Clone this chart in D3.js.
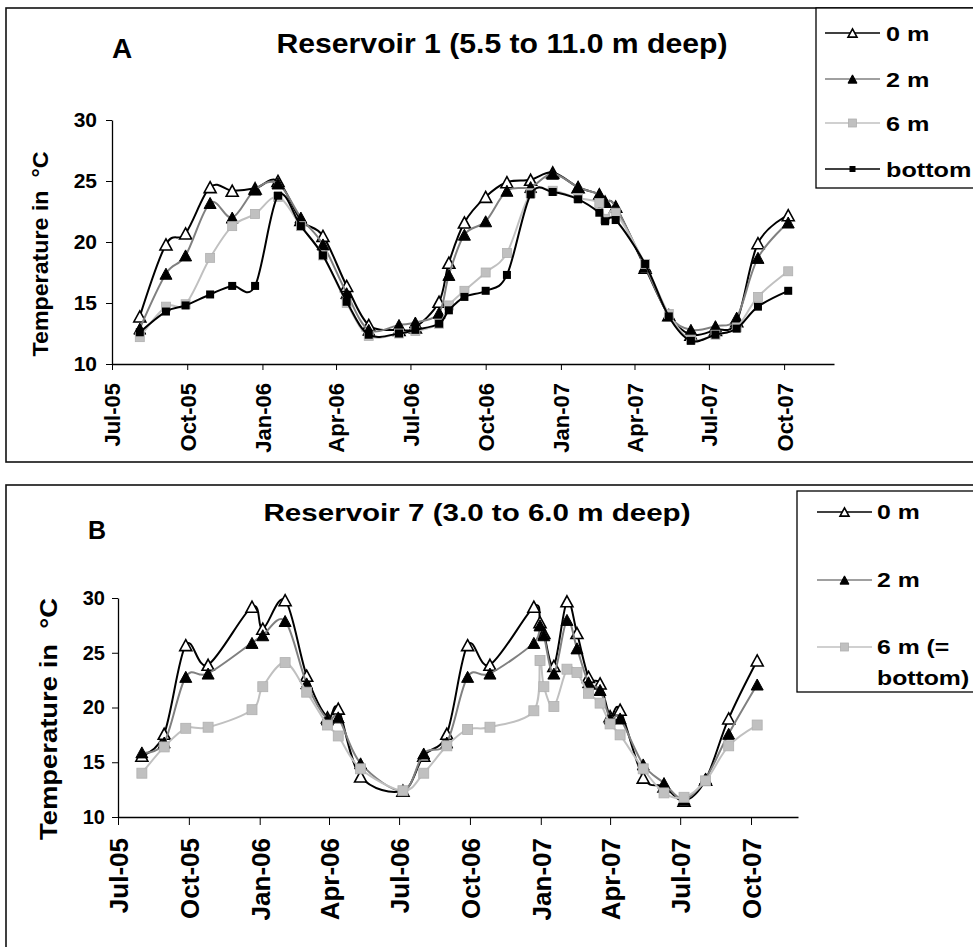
<!DOCTYPE html>
<html><head><meta charset="utf-8">
<script src="https://cdn.jsdelivr.net/npm/d3@7"></script>
<style>
body{margin:0;background:#fff;}
svg{display:block;font-family:"Liberation Sans",Arial,sans-serif;font-weight:bold;}
</style></head><body>
<svg id="c" width="973" height="947"></svg>
<script>
// ---------- DATA ----------
const datesA = ["2005-08-04","2005-09-05","2005-09-29","2005-10-29","2005-11-25","2005-12-23","2006-01-20","2006-02-17","2006-03-16","2006-04-14","2006-05-11","2006-06-17","2006-07-07","2006-08-05","2006-08-17","2006-09-05","2006-10-01","2006-10-27","2006-11-25","2006-12-22","2007-01-22","2007-02-17","2007-02-24","2007-03-09","2007-04-14","2007-05-13","2007-06-09","2007-07-09","2007-08-04","2007-08-30","2007-10-06"];
const a0m    = [13.9,19.8,20.7,24.5,24.2,24.4,25.0,21.8,20.5,16.4,13.2,12.8,13.0,15.1,18.3,21.6,23.7,24.9,25.1,25.7,24.5,23.9,23.3,22.9,17.9,14.0,12.4,12.8,13.5,19.9,22.2];
const a2m    = [12.9,17.4,18.9,23.2,22.0,24.3,24.8,22.0,19.8,15.8,12.8,13.2,13.4,14.2,17.3,20.6,21.7,24.2,24.5,25.6,24.5,23.9,23.3,22.9,18.0,14.0,12.8,13.1,13.8,18.7,21.6];
const a6m    = [12.2,14.7,14.9,18.7,21.3,22.3,23.7,21.3,18.9,15.0,12.3,12.5,12.7,13.3,14.8,16.0,17.5,19.1,24.0,24.2,23.6,23.2,21.9,22.4,18.2,14.1,12.0,12.4,13.0,15.5,17.6];
const aBottom= [12.6,14.3,14.8,15.7,16.4,16.4,23.8,21.3,18.9,15.1,12.4,12.5,12.8,13.3,14.4,15.5,16.0,17.3,23.9,24.1,23.5,22.4,21.7,21.8,18.2,13.9,11.9,12.4,12.9,14.7,16.0];

const datesB = ["2005-08-01","2005-08-30","2005-09-27","2005-10-26","2005-12-22","2006-01-05","2006-02-03","2006-03-03","2006-03-30","2006-04-13","2006-05-12","2006-07-06","2006-08-02","2006-09-01","2006-09-28","2006-10-27","2006-12-23","2006-12-31","2007-01-05","2007-01-18","2007-02-04","2007-02-17","2007-03-04","2007-03-19","2007-04-01","2007-04-14","2007-05-14","2007-06-10","2007-07-06","2007-08-03","2007-09-02","2007-10-09"];
const b0m = [15.6,17.6,25.7,23.9,29.2,27.2,29.8,22.9,19.1,19.9,13.7,12.4,15.6,17.6,25.7,23.9,29.2,27.8,26.8,23.8,29.7,26.8,22.8,22.2,19.2,19.8,13.6,12.8,11.5,13.4,19.0,24.3];
const b2m = [15.9,16.8,22.8,23.1,25.9,26.6,27.9,22.2,18.9,19.1,14.9,12.4,15.8,16.8,22.8,23.1,25.9,27.5,26.6,23.1,28.0,25.4,22.3,21.6,19.0,19.0,14.8,13.1,11.6,13.5,17.6,22.1];
const b6m = [14.0,16.4,18.1,18.2,19.8,21.9,24.1,21.4,18.4,17.4,14.4,12.4,14.0,16.5,18.0,18.2,19.7,24.3,21.9,20.1,23.5,23.2,21.3,20.4,18.5,17.5,14.4,12.2,11.8,13.3,16.5,18.4];

const xTickDates = ["2005-07-01","2005-10-01","2006-01-01","2006-04-01","2006-07-01","2006-10-01","2007-01-01","2007-04-01","2007-07-01","2007-10-01"];
const xDomain = ["2005-07-01","2007-12-01"];
const yTicks = [10,15,20,25,30];
const yDomain = [10,30];
const titles = ["Reservoir 1 (5.5 to 11.0 m deep)","Reservoir 7 (3.0 to 6.0 m deep)"];
const panelLetters = ["A","B"];
const legendA = ["0 m","2 m","6 m","bottom"];
const legendB = ["0 m","2 m","6 m (=","bottom)"];
const yTitle = "Temperature in  \u00B0C";

// ---------- DRAW ----------
const parse = d3.timeParse("%Y-%m-%d");
const fmt = d3.timeFormat("%b-%y");
const svg = d3.select("#c");

const GRAY = "#808080", LIGHT = "#c0c0c0";

function triPath(w,h){ return `M0,${-h/2}L${w/2},${h/2}L${-w/2},${h/2}Z`; }
function drawMarker(g, type, x, y, s){
  if(type==="triW"){
    g.append("path").attr("d",triPath(s,s*0.92)).attr("transform",`translate(${x},${y})`)
     .attr("fill","#fff").attr("stroke","#000").attr("stroke-width",1.6);
  } else if(type==="triB"){
    g.append("path").attr("d",triPath(s,s*0.92)).attr("transform",`translate(${x},${y})`)
     .attr("fill","#000").attr("stroke","#000").attr("stroke-width",1);
  } else if(type==="sqG"){
    g.append("rect").attr("x",x-s/2).attr("y",y-s/2).attr("width",s).attr("height",s)
     .attr("fill",LIGHT).attr("stroke","#b0b0b0").attr("stroke-width",0.8);
  } else if(type==="sqB"){
    g.append("rect").attr("x",x-s/2).attr("y",y-s/2).attr("width",s).attr("height",s)
     .attr("fill","#000");
  }
}

function panel(cfg){
  const x = d3.scaleTime().domain(xDomain.map(parse)).range([cfg.x0,cfg.x1]);
  const y = d3.scaleLinear().domain(yDomain).range([cfg.y0,cfg.y1]);
  const g = svg.append("g");

  // x axis
  const xa = g.append("g").attr("transform",`translate(0,${cfg.y0})`)
    .call(d3.axisBottom(x).tickValues(xTickDates.map(parse)).tickFormat(fmt).tickSize(cfg.xTick).tickSizeOuter(0));
  xa.select(".domain").attr("stroke","#000").attr("stroke-width",1.3);
  xa.selectAll(".tick line").attr("stroke","#000");
  xa.selectAll("text").attr("transform","rotate(-90)").attr("x",-cfg.xLabGap).attr("y",0)
    .attr("dy","0.36em").style("text-anchor","end").style("font-size",cfg.xFont+"px")
    .style("font-family","'Liberation Sans',Arial,sans-serif").style("font-weight","bold").attr("fill","#000");

  // y axis
  const ya = g.append("g").attr("transform",`translate(${cfg.x0},0)`)
    .call(d3.axisLeft(y).tickValues(yTicks).tickSize(6).tickSizeOuter(0).tickPadding(cfg.yPad));
  ya.select(".domain").attr("stroke","#000").attr("stroke-width",1.3);
  ya.selectAll(".tick line").attr("stroke","#000");
  ya.selectAll("text").style("font-size",cfg.yFont+"px")
    .style("font-family","'Liberation Sans',Arial,sans-serif").style("font-weight","bold").attr("fill","#000");

  // series
  cfg.series.forEach(s=>{
    const pts = cfg.dates.map((d,i)=>({d:parse(d),v:s.vals[i]}));
    const line = d3.line().x(p=>x(p.d)).y(p=>y(p.v)).curve(d3.curveCatmullRom.alpha(0));
    g.append("path").datum(pts).attr("d",line).attr("fill","none")
      .attr("stroke",s.color).attr("stroke-width",2);
    const mg = g.append("g");
    pts.forEach(p=>drawMarker(mg,s.marker,x(p.d),y(p.v),s.size));
  });

  // titles
  g.append("text").attr("x",cfg.titleX).attr("y",cfg.titleY).attr("text-anchor","middle")
    .attr("font-size",cfg.titleFont).attr("textLength",cfg.titleLen).attr("lengthAdjust","spacingAndGlyphs")
    .text(cfg.title);
  g.append("text").attr("x",cfg.letterX).attr("y",cfg.letterY).attr("text-anchor","middle")
    .attr("font-size",cfg.letterFont).text(cfg.letter);
  g.append("text").attr("transform",`translate(${cfg.ytX},${cfg.ytY}) rotate(-90)`).attr("text-anchor","middle")
    .attr("font-size",cfg.ytFont).attr("textLength",cfg.ytLen).attr("lengthAdjust","spacingAndGlyphs")
    .style("white-space","pre").text(yTitle);

  // legend
  const lg = g.append("g");
  lg.append("rect").attr("x",cfg.lgX).attr("y",cfg.lgY).attr("width",300).attr("height",cfg.lgH)
    .attr("fill","#fff").attr("stroke","#000").attr("stroke-width",1.3);
  cfg.series.forEach((s,i)=>{
    const ly = cfg.lgRows[i];
    lg.append("line").attr("x1",cfg.lgL1).attr("x2",cfg.lgL2).attr("y1",ly).attr("y2",ly)
      .attr("stroke",s.color).attr("stroke-width",1.6);
    drawMarker(lg,s.marker,(cfg.lgL1+cfg.lgL2)/2,ly,s.lsize);
    lg.append("text").attr("transform",`translate(${cfg.lgT},${ly+cfg.lgBase}) scale(${cfg.lgStretch},1)`)
      .attr("font-size",cfg.lgFont).text(cfg.legend[i]);
  });
  if(cfg.extraLegend){
    lg.append("text").attr("transform",`translate(${cfg.lgT},${cfg.extraLegend.y}) scale(${cfg.lgStretch},1)`)
      .attr("font-size",cfg.lgFont).text(cfg.extraLegend.text);
  }
}

// panel borders
svg.append("rect").attr("x",6).attr("y",8).attr("width",1000).attr("height",454)
  .attr("fill","none").attr("stroke","#111").attr("stroke-width",1.6);
svg.append("rect").attr("x",6).attr("y",485).attr("width",1000).attr("height",500)
  .attr("fill","none").attr("stroke","#111").attr("stroke-width",1.6);

panel({
  x0:112,x1:834,y0:364,y1:120,xTick:6,xLabGap:19,xFont:22,yFont:21,yPad:9,
  dates:datesA,
  series:[
    {vals:a0m,color:"#000",marker:"triW",size:12,lsize:9},
    {vals:a2m,color:GRAY,marker:"triB",size:12,lsize:9},
    {vals:a6m,color:LIGHT,marker:"sqG",size:9,lsize:8},
    {vals:aBottom,color:"#000",marker:"sqB",size:8,lsize:6}
  ],
  title:titles[0],titleX:502,titleY:53,titleFont:27,titleLen:451,
  letter:panelLetters[0],letterX:122,letterY:58,letterFont:28,
  ytX:48,ytY:254,ytFont:22,ytLen:205,
  lgX:816,lgY:8,lgH:180,lgRows:[33,79,123,169],lgL1:825,lgL2:880,lgT:886,lgBase:8,lgFont:21,lgStretch:1.2,
  legend:legendA
});

panel({
  x0:118,x1:798,y0:817,y1:598,xTick:8,xLabGap:21,xFont:26,yFont:20,yPad:7,
  dates:datesB,
  series:[
    {vals:b0m,color:"#000",marker:"triW",size:12,lsize:9},
    {vals:b2m,color:GRAY,marker:"triB",size:12,lsize:9},
    {vals:b6m,color:LIGHT,marker:"sqG",size:10,lsize:8}
  ],
  title:titles[1],titleX:477,titleY:521,titleFont:24,titleLen:427,
  letter:panelLetters[1],letterX:97,letterY:539,letterFont:25,
  ytX:57,ytY:719,ytFont:23,ytLen:242,
  lgX:797,lgY:491,lgH:201,lgRows:[512,580,647],lgL1:817,lgL2:872,lgT:877,lgBase:7,lgFont:21,lgStretch:1.18,
  legend:legendB.slice(0,3),
  extraLegend:{text:legendB[3],y:685}
});
</script>
</body></html>
